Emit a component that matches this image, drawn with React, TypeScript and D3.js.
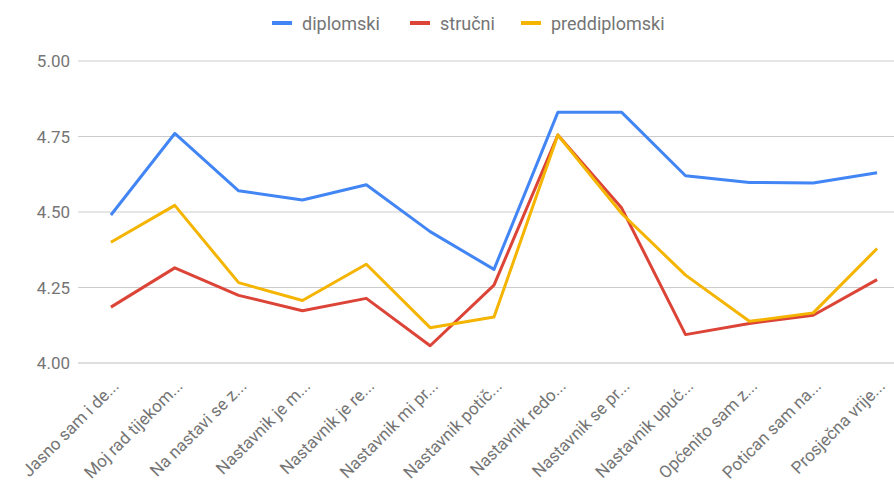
import * as d3 from "d3";

const W = 894;
const H = 482;

const categories = [
  "Jasno sam i de...",
  "Moj rad tijekom...",
  "Na nastavi se z...",
  "Nastavnik je m...",
  "Nastavnik je re...",
  "Nastavnik mi pr...",
  "Nastavnik potič...",
  "Nastavnik redo...",
  "Nastavnik se pr...",
  "Nastavnik upuć...",
  "Općenito sam z...",
  "Potican sam na...",
  "Prosječna vrije...",
];

const diplomski = [4.49, 4.76, 4.57, 4.54, 4.59, 4.435, 4.31, 4.83, 4.83, 4.62, 4.598, 4.596, 4.63];
const strucni = [4.185, 4.315, 4.224, 4.173, 4.214, 4.057, 4.258, 4.755, 4.513, 4.094, 4.131, 4.158, 4.276];
const preddiplomski = [4.4, 4.522, 4.266, 4.207, 4.327, 4.117, 4.152, 4.755, 4.495, 4.291, 4.138, 4.166, 4.379];

const yTicks = [4.0, 4.25, 4.5, 4.75, 5.0];

const series = [
  { name: "diplomski", color: "#4285F4", values: diplomski },
  { name: "stručni", color: "#DB4437", values: strucni },
  { name: "preddiplomski", color: "#F4B400", values: preddiplomski },
];

const FONT = "Roboto, Arial, sans-serif";

export default function App() {
  const x = d3.scalePoint<string>().domain(categories).range([79, 909]).padding(0.5);
  const y = d3.scaleLinear().domain([4, 5]).range([363, 61]);

  const line = d3
    .line<number>()
    .x((_, i) => x(categories[i]) as number)
    .y((d) => y(d));

  // legend swatch start x
  const legendX = [272, 410, 521];

  return (
    <div style={{ position: "absolute", left: 0, top: 0 }}>
      <svg width={W} height={H} style={{ display: "block", background: "#fff" }} fontFamily={FONT}>
        {/* gridlines + y labels */}
        {yTicks.map((t) => (
          <g key={t}>
            <line x1={78} x2={W} y1={y(t)} y2={y(t)} stroke={t === 4 ? "#bdbdbd" : "#cccccc"} strokeWidth={1} />
            <text x={70} y={y(t)} textAnchor="end" dominantBaseline="central" fontSize={17} fill="#757575">
              {t.toFixed(2)}
            </text>
          </g>
        ))}

        {/* lines */}
        {series.map((s) => (
          <path key={s.name} d={line(s.values) ?? ""} fill="none" stroke={s.color} strokeWidth={3} strokeLinejoin="round" />
        ))}

        {/* x labels */}
        {categories.map((c) => (
          <text
            key={c}
            transform={`translate(${(x(c) as number) + 9},${387}) rotate(-45)`}
            textAnchor="end"
            fontSize={17}
            fill="#757575"
          >
            {c}
          </text>
        ))}

        {/* legend */}
        {series.map((s, i) => (
          <g key={s.name} transform={`translate(${legendX[i]},23)`}>
            <line x1={0} x2={20} y1={0} y2={0} stroke={s.color} strokeWidth={4} />
            <text x={30} y={0} dominantBaseline="central" fontSize={18} fill="#757575">
              {s.name}
            </text>
          </g>
        ))}
      </svg>
    </div>
  );
}
